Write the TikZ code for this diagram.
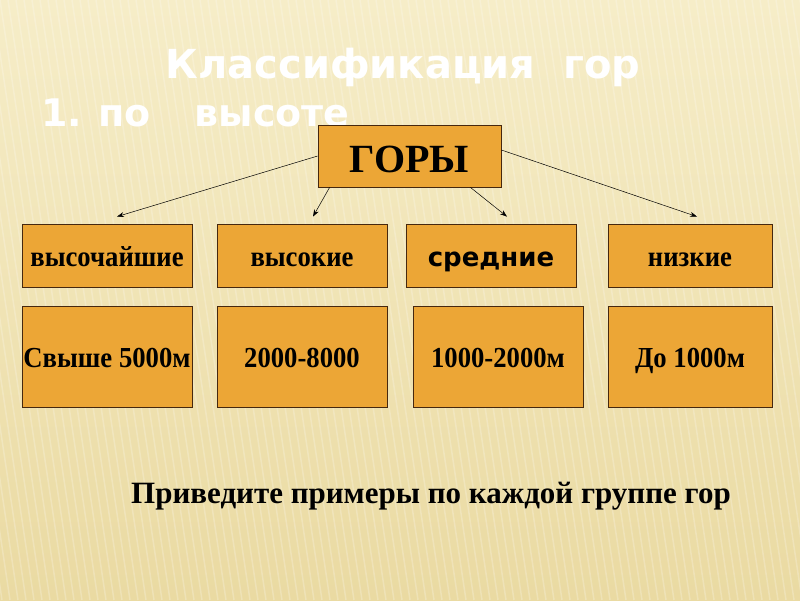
\documentclass[tikz,border=0pt]{standalone}
\usepackage{fontspec}
\setmainfont{Liberation Serif}
\newfontfamily\headfont{DejaVu Sans}
\newfontfamily\narrowserif[FakeStretch=0.92]{Liberation Serif}
\usetikzlibrary{arrows.meta}
\definecolor{boxfill}{RGB}{236,166,54}
\definecolor{boxline}{RGB}{70,40,15}
\definecolor{bgtop}{RGB}{246,237,200}
\definecolor{bgbot}{RGB}{234,218,162}

\begin{document}
\begin{tikzpicture}[x=1pt,y=-1pt,
  box/.style={draw=boxline,fill=boxfill,line width=0.8pt,inner sep=0pt,
    minimum width=170pt,text height=22pt,text depth=0pt,
    font=\narrowserif\bfseries\fontsize{29}{33}\selectfont},
  link/.style={-{Stealth[length=7pt,width=5pt]},line width=0.5pt}]
\clip (0,0) rectangle (800,600);
\shade[top color=bgtop,bottom color=bgbot] (0,0) rectangle (800,600);

%\draw[step=50pt,gray,very thin] (0,0) grid (800,600); %background grid
\foreach \i in {-200,-192,...,800}
  \draw[white,opacity=0.22,line width=1.5pt] (\i,0) -- (\i+90,600);

\node[white,font=\headfont\bfseries\fontsize{40}{44}\selectfont] (title) at (403,67) {Классификация\ \ гор};
\node[white,anchor=west,font=\headfont\bfseries\fontsize{38}{42}\selectfont] (sub) at (38,113) {1.\hspace{16pt}по\hspace{44pt}высоте};

\node[box,minimum width=183pt,minimum height=62pt,text height=32pt,
  font=\bfseries\fontsize{40}{44}\selectfont] (gory) at (409.5,156) {ГОРЫ};

\node[box,minimum height=63pt] (b1) at (107,255.5) {высочайшие};
\node[box,minimum height=63pt] (b2) at (302,255.5) {высокие};
\node[box,minimum height=63pt,font=\headfont\bfseries\fontsize{26}{30}\selectfont] (b3) at (491,255.5) {средние};
\node[box,minimum height=63pt,minimum width=164pt] (b4) at (690,255.5) {низкие};

\node[box,minimum height=101pt] (c1) at (107,356.5) {Свыше 5000м};
\node[box,minimum height=101pt] (c2) at (302,356.5) {2000-8000};
\node[box,minimum height=101pt] (c3) at (498,356.5) {1000-2000м};
\node[box,minimum height=101pt,minimum width=164pt] (c4) at (690,356.5) {До 1000м};

\draw[link] (gory.west) -- ([shift={(10,-7)}]b1.north);
\draw[link] ([shift={(12,0)}]gory.south west) -- ([shift={(11,-7)}]b2.north);
\draw[link] ([shift={(-31,0)}]gory.south east) -- ([shift={(16,-7)}]b3.north);
\draw[link] ([shift={(0,-6)}]gory.east) -- ([shift={(7,-7)}]b4.north);

\node[font=\bfseries\fontsize{31}{35}\selectfont] (task) at (431,496) {Приведите примеры по каждой группе гор};
\end{tikzpicture}
\end{document}
